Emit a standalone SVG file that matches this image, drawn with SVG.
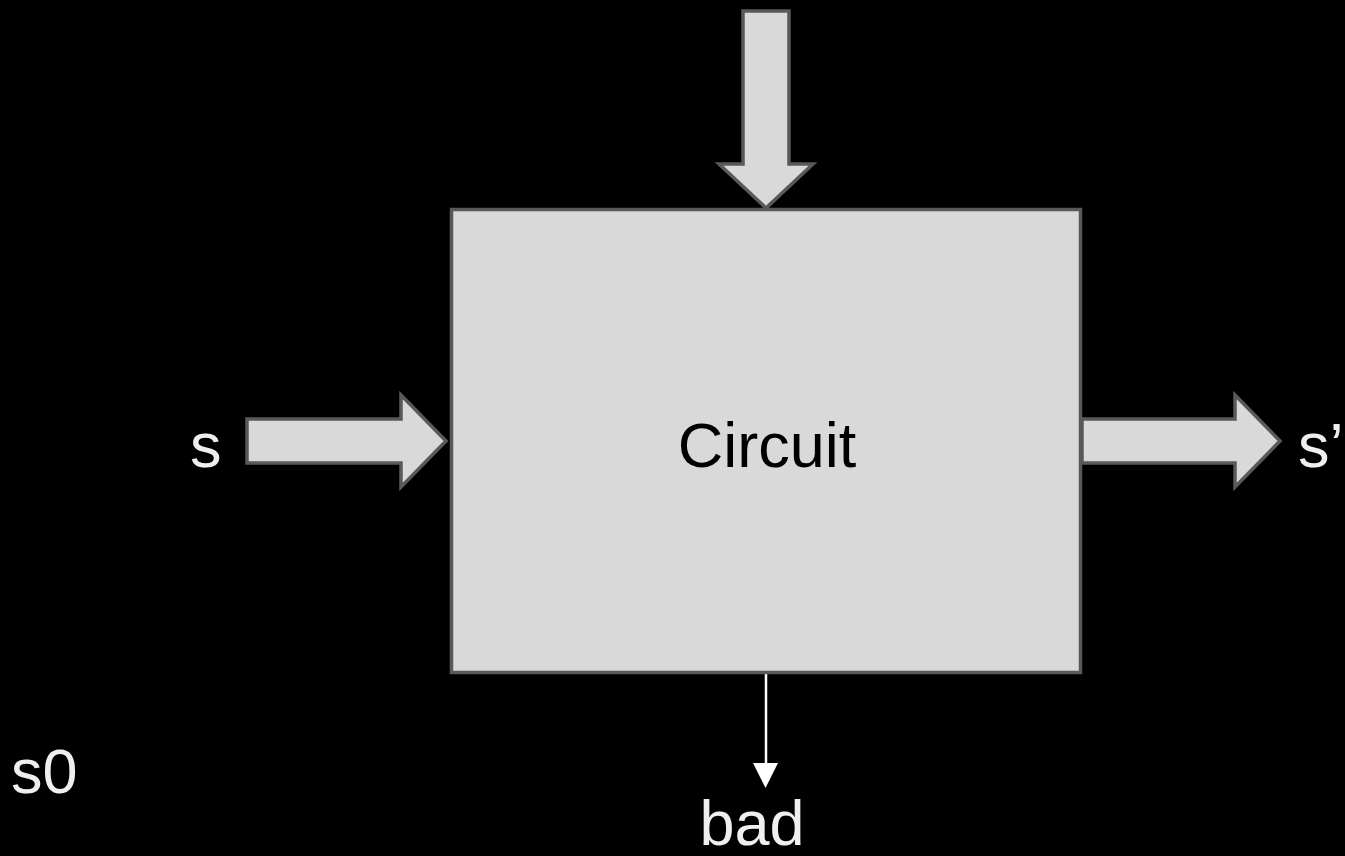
<svg xmlns="http://www.w3.org/2000/svg" width="1345" height="856" viewBox="0 0 1345 856">
<style>
.shape{fill:#d9d9d9;stroke:#595959;stroke-width:3.5;stroke-linejoin:miter}
.lbl{font-family:"Liberation Sans",Arial,sans-serif;font-size:63px;fill:#efefef}
.dark{fill:#000}
</style>
<rect width="1345" height="856" fill="#000"/>
<g id="connectors">
<path id="arrow-top" class="shape" d="M743,11 H789 V164 H813 L766,208 L719,164 H743 Z"/>
<path id="arrow-s" class="shape" d="M247,419 H401 V395 L446,441 L401,487 V463 H247 Z"/>
<path id="arrow-sprime" class="shape" d="M1082,419 H1235 V395 L1280,441 L1235,487 V463 H1082 Z"/>
<g id="arrow-bad">
<line x1="766" y1="674" x2="766" y2="764" stroke="#ffffff" stroke-width="2.5"/>
<path d="M753,763 L778,763 L765.5,788 Z" fill="#ffffff"/>
</g>
</g>
<g id="circuit">
<rect class="shape" x="451.5" y="209.5" width="629" height="463"/>
<text class="lbl dark" x="767" y="467" text-anchor="middle">Circuit</text>
</g>
<g id="label-s"><text class="lbl" x="190" y="467">s</text></g>
<g id="label-sprime"><text class="lbl" x="1298" y="467">s’</text></g>
<g id="label-s0"><text class="lbl" x="11" y="793">s0</text></g>
<g id="label-bad"><text class="lbl" x="752" y="845" text-anchor="middle">bad</text></g>
</svg>
